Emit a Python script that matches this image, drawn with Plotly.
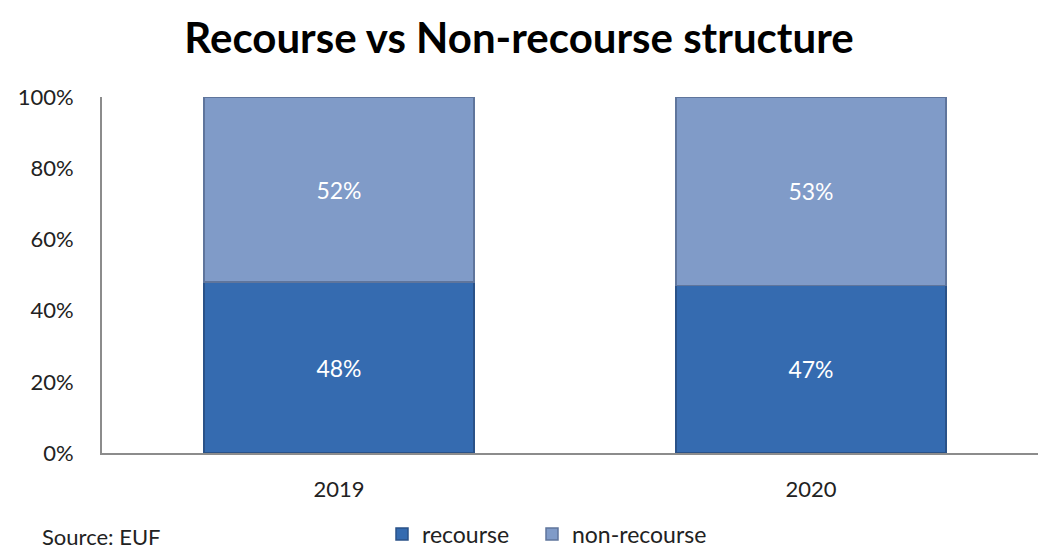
import plotly.graph_objects as go

years = ["2019", "2020"]
recourse = [48, 47]
non_recourse = [52, 53]
ytick_vals = [0, 20, 40, 60, 80, 100]
ytick_text = ["0%", "20%", "40%", "60%", "80%", "100%"]

FONT = "Lato"
W, H = 1038, 552
L, T = 102, 97
PLOT_BOTTOM = 453
paper_h = H - T
paper_w = W - L

fig = go.Figure()
fig.add_trace(go.Bar(
    x=years, y=recourse, name="recourse", legend="legend",
    marker=dict(color="#356BB0", line=dict(color="#2A5288", width=1.5)),
    text=[f"{v}%" for v in recourse], textposition="inside", insidetextanchor="middle",
    textfont=dict(color="white", size=23, family=FONT),
    width=0.572,
))
fig.add_trace(go.Bar(
    x=years, y=non_recourse, name="non-recourse", legend="legend2",
    marker=dict(color="#809BC8", line=dict(color="#5F759C", width=1.5)),
    text=[f"{v}%" for v in non_recourse], textposition="inside", insidetextanchor="middle",
    textfont=dict(color="white", size=23, family=FONT),
    width=0.572,
))

leg_common = dict(orientation="h", xanchor="left", y=(H - 534) / paper_h, yanchor="middle",
                  font=dict(size=23, family=FONT), itemwidth=30, bgcolor="rgba(0,0,0,0)")

fig.update_layout(
    barmode="stack",
    width=W, height=H,
    paper_bgcolor="white", plot_bgcolor="white",
    margin=dict(l=L, r=0, t=T, b=0, autoexpand=False),
    font=dict(family=FONT, size=22, color="#222222"),
    title=dict(text="<b>Recourse vs Non-recourse structure</b>", x=0.5, xref="container",
               xanchor="center", y=1 - 38 / H, yref="container", yanchor="middle",
               font=dict(family=FONT, size=42, color="black")),
    showlegend=True,
    legend=dict(x=(382 - L) / paper_w, **leg_common),
    legend2=dict(x=(532 - L) / paper_w, **leg_common),
    uniformtext=dict(mode="show", minsize=20),
)
fig.update_xaxes(range=[-0.502, 1.481], showline=True, linecolor="#8C8C8C", linewidth=2,
                 ticks="", showgrid=False, tickfont=dict(size=22, family=FONT),
                 ticklabelstandoff=16, automargin=False)
fig.update_yaxes(range=[0, 100], tickvals=ytick_vals, ticktext=ytick_text, showline=True,
                 linecolor="#8C8C8C", linewidth=2, showgrid=False, zeroline=False,
                 ticks="", tickfont=dict(size=22, family=FONT), ticklabelstandoff=22,
                 domain=[(H - PLOT_BOTTOM) / paper_h, 1], automargin=False)
fig.add_annotation(text="Source: EUF", xref="paper", yref="paper", x=(40 - L) / paper_w,
                   xanchor="left", y=0, yanchor="bottom", showarrow=False,
                   font=dict(size=22, family=FONT, color="#222222"))

fig.write_html("out.html", config={"displayModeBar": False},
               post_script="document.body.style.margin='0';")
